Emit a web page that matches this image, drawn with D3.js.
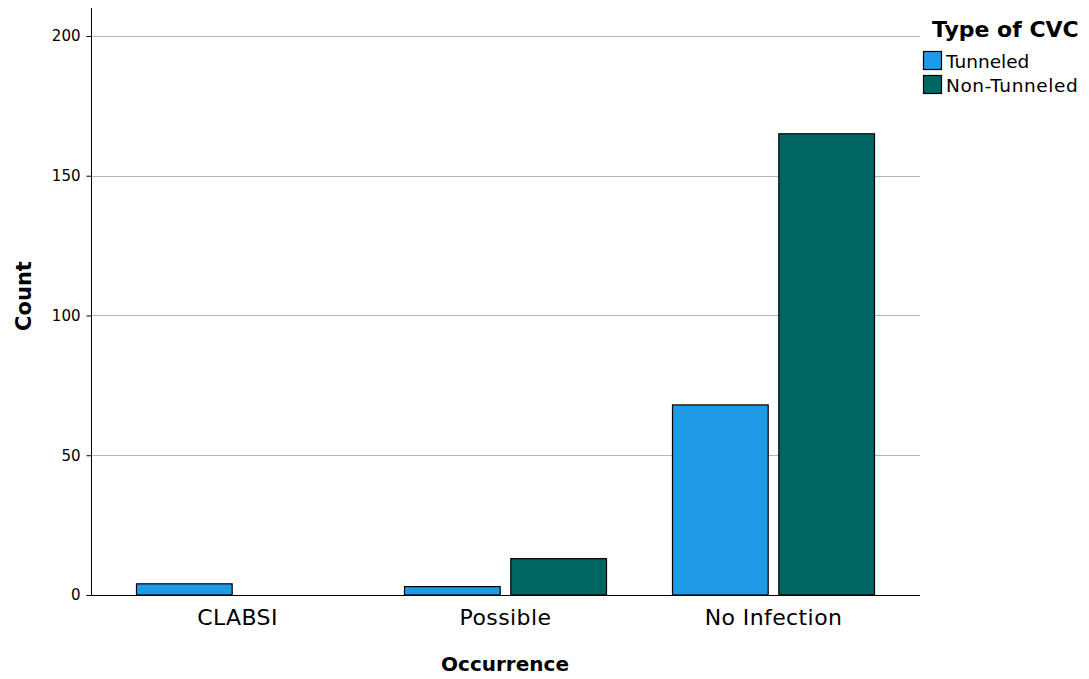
<!DOCTYPE html>
<html>
<head>
<meta charset="utf-8">
<script src="https://cdn.jsdelivr.net/npm/d3@7"></script>
<style>
html,body{margin:0;padding:0;background:#fff;}
svg{display:block;}
</style>
</head>
<body>
<svg id="chart" width="1089" height="679"></svg>
<script>
const categories = ["CLABSI", "Possible", "No Infection"];
const seriesNames = ["Tunneled", "Non-Tunneled"];
const tunneled = [4, 3, 68];
const nonTunneled = [0, 13, 165];
const yTicks = [0, 50, 100, 150, 200];
const colors = ["#1f9ae6", "#006664"];

const svg = d3.select("#chart");
const pLeft = 91, pRight = 920, pTop = 8, pBottom = 595;

const y = d3.scaleLinear().domain([0, 210]).range([pBottom, pTop]);
const x0 = d3.scaleBand().domain(categories).range([pLeft, pRight]).paddingInner(0).paddingOuter(0.0466);
const x1 = d3.scaleBand().domain(seriesNames).range([33, 235]).paddingInner(0.1).paddingOuter(0);

// gridlines
svg.append("g").selectAll("line").data(yTicks.filter(d => d > 0)).join("line")
  .attr("x1", pLeft).attr("x2", pRight)
  .attr("y1", d => Math.round(y(d)) + 0.5).attr("y2", d => Math.round(y(d)) + 0.5)
  .attr("stroke", "#b5b5b5").attr("stroke-width", 1);

// bars
const rows = categories.map((c, i) => ({cat: c, vals: [tunneled[i], nonTunneled[i]]}));
const g = svg.append("g").selectAll("g").data(rows).join("g")
  .attr("transform", d => `translate(${x0(d.cat)},0)`);
g.selectAll("rect").data(d => d.vals.map((v, j) => ({name: seriesNames[j], v, j})).filter(d => d.v > 0)).join("rect")
  .attr("x", d => x1(d.name)).attr("width", x1.bandwidth())
  .attr("y", d => y(d.v)).attr("height", d => y(0) - y(d.v))
  .attr("fill", d => colors[d.j]).attr("stroke", "#000").attr("stroke-width", 1.2);

// y axis
const yAxis = d3.axisLeft(y).tickValues(yTicks).tickSize(5).tickPadding(6);
const ya = svg.append("g").attr("transform", `translate(${pLeft + 0.5},0)`).call(yAxis);
ya.select(".domain").remove();
ya.selectAll(".tick line").attr("stroke", "#000");
ya.selectAll(".tick text").attr("font-family", "DejaVu Sans").attr("font-size", 15).attr("fill", "#000");
svg.append("line").attr("x1", pLeft + 0.5).attr("x2", pLeft + 0.5).attr("y1", pTop).attr("y2", pBottom + 0.5).attr("stroke", "#000");

// x axis
const xAxis = d3.axisBottom(x0).tickSize(0).tickPadding(14);
const xa = svg.append("g").attr("transform", `translate(0,${pBottom + 0.5})`).call(xAxis);
xa.select(".domain").attr("stroke", "#000").attr("d", `M${pLeft},0H${pRight}`);
xa.selectAll(".tick text").attr("font-family", "DejaVu Sans").attr("font-size", 22)
  .attr("letter-spacing", 0.4).attr("fill", "#000");

// axis titles
svg.append("text").attr("transform", "translate(31,296) rotate(-90)").attr("text-anchor", "middle")
  .attr("font-family", "DejaVu Sans").attr("font-weight", "bold").attr("font-size", 21).text("Count");
svg.append("text").attr("x", 505).attr("y", 671).attr("text-anchor", "middle")
  .attr("font-family", "DejaVu Sans").attr("font-weight", "bold").attr("font-size", 20).text("Occurrence");

// legend
svg.append("text").attr("x", 932).attr("y", 37).attr("font-family", "DejaVu Sans").attr("font-weight", "bold")
  .attr("font-size", 22).text("Type of CVC");
const lg = svg.append("g").selectAll("g").data(seriesNames).join("g")
  .attr("transform", (d, i) => `translate(923,${51 + i * 24})`);
lg.append("rect").attr("x", 0.5).attr("y", 0.5).attr("width", 18).attr("height", 18)
  .attr("fill", (d, i) => colors[i]).attr("stroke", "#000").attr("stroke-width", 1.2);
lg.append("text").attr("x", 23).attr("y", 17).attr("font-family", "DejaVu Sans").attr("font-size", 18.5)
  .attr("letter-spacing", (d, i) => i === 1 ? 0.6 : 0).text(d => d);
</script>
</body>
</html>
